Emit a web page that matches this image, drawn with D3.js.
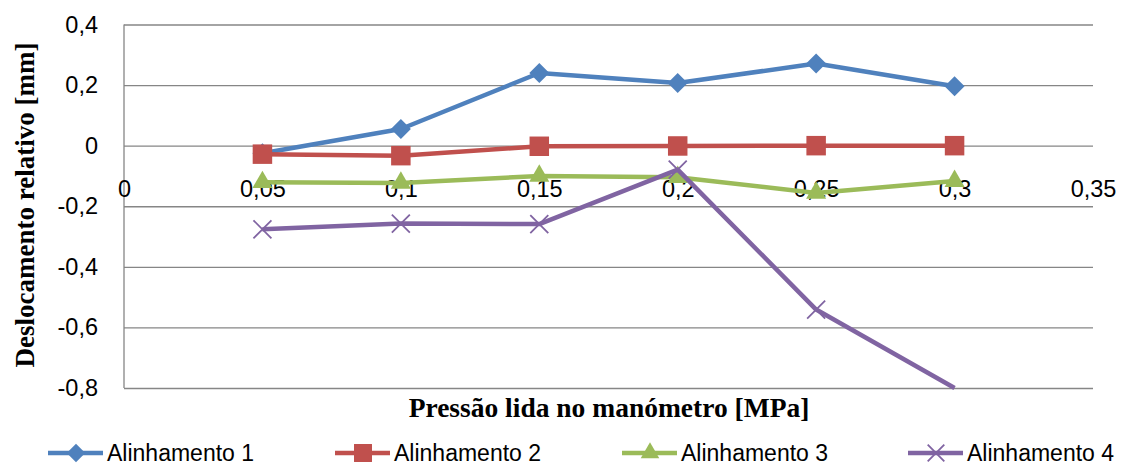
<!DOCTYPE html>
<html>
<head>
<meta charset="utf-8">
<script src="https://cdn.jsdelivr.net/npm/d3@7"></script>
<style>
  body { margin: 0; background: #fff; }
  svg { display: block; }
</style>
</head>
<body>
<svg id="chart" width="1127" height="466"></svg>
<script>
// ========== Data ==========

const pressures = [0.05, 0.1, 0.15, 0.2, 0.25, 0.3];
const alinhamento1 = [-0.025, 0.055, 0.24, 0.207, 0.271, 0.196];
const alinhamento2 = [-0.028, -0.033, -0.002, -0.001, 0, 0];
const alinhamento3 = [-0.121, -0.123, -0.1, -0.104, -0.156, -0.117];
const alinhamento4 = [-0.276, -0.257, -0.259, -0.079, -0.541, -0.8];
const seriesNames = ["Alinhamento 1", "Alinhamento 2", "Alinhamento 3", "Alinhamento 4"];
const xTicks = [0, 0.05, 0.1, 0.15, 0.2, 0.25, 0.3, 0.35];
const yTicks = [0.4, 0.2, 0, -0.2, -0.4, -0.6, -0.8];

const seriesValues = [alinhamento1, alinhamento2, alinhamento3, alinhamento4];
const colors = ["#4F81BD", "#C0504D", "#9BBB59", "#8064A2"];

// ========== Helpers ==========

const ptLocale = d3.formatLocale({ decimal: ",", thousands: ".", grouping: [3], currency: ["", ""], minus: "-" });
const fmt = v => ptLocale.format("~g")(+v.toFixed(2));

const symbolCross = {
    draw(ctx, size) {
        const r = Math.sqrt(size) / 2;
        ctx.moveTo(-r, -r); ctx.lineTo(r, r);
        ctx.moveTo(-r, r); ctx.lineTo(r, -r);
    }
};

function markerPath(i, scale) {
    if (i === 0) return d3.symbol().type(d3.symbolSquare).size(200 * scale)();
    if (i === 1) return d3.symbol().type(d3.symbolSquare).size(380 * scale)();
    if (i === 2) return d3.symbol().type(d3.symbolTriangle).size(175 * scale)();
    return d3.symbol().type(symbolCross).size(324 * scale)();
}

const sans = "Liberation Sans, Arial, sans-serif";
const serif = "Liberation Serif, Times New Roman, serif";

// ========== Chart ==========

const svg = d3.select("#chart");
const x = d3.scaleLinear().domain([0, 0.35]).range([124, 1093]);
const y = d3.scaleLinear().domain([-0.8, 0.4]).range([388, 24.5]);

// gridlines + y axis
const yAxis = svg.append("g")
    .attr("transform", `translate(${x(0)},0)`)
    .call(d3.axisLeft(y).tickValues(yTicks).tickFormat(fmt)
        .tickSize(-(x(0.35) - x(0))).tickPadding(26));
yAxis.select(".domain").remove();
yAxis.selectAll(".tick line").attr("stroke", "#868686").attr("stroke-width", 1.3);
yAxis.selectAll("text")
    .attr("font-family", sans)
    .attr("font-size", 23.5).attr("fill", "#000");

svg.append("line")
    .attr("x1", x(0)).attr("x2", x(0))
    .attr("y1", y(0.4)).attr("y2", y(-0.8))
    .attr("stroke", "#868686").attr("stroke-width", 1.3);

// x axis labels (below the zero line)
const xAxis = svg.append("g")
    .attr("transform", `translate(0,${y(0)})`)
    .call(d3.axisBottom(x).tickValues(xTicks).tickFormat(fmt).tickSize(0));
xAxis.select(".domain").remove();
xAxis.selectAll("text")
    .attr("y", 51).attr("dy", null)
    .attr("font-family", sans)
    .attr("font-size", 23.5).attr("fill", "#000");

// series
const line = d3.line().x((d, i) => x(pressures[i])).y(d => y(d));

seriesValues.forEach((vals, i) => {
    const g = svg.append("g");
    g.append("path")
        .datum(vals)
        .attr("fill", "none")
        .attr("stroke", colors[i])
        .attr("stroke-width", 4.5)
        .attr("stroke-linejoin", "round")
        .attr("d", line);

    g.selectAll(".m")
        .data(vals.map((v, k) => ({ p: pressures[k], v })).filter(d => d.v > -0.8))
        .join("path")
        .attr("transform", d => `translate(${x(d.p)},${y(d.v)})${i === 0 ? " rotate(45)" : ""}`)
        .attr("d", markerPath(i, 1))
        .attr("fill", i === 3 ? "none" : colors[i])
        .attr("stroke", colors[i])
        .attr("stroke-width", i === 3 ? 1.8 : 0);
});

// axis titles
svg.append("text")
    .attr("x", 609).attr("y", 417)
    .attr("text-anchor", "middle")
    .attr("font-family", serif)
    .attr("font-weight", "bold").attr("font-size", 27.5)
    .text("Pressão lida no manómetro [MPa]");

svg.append("text")
    .attr("transform", "translate(34,205) rotate(-90)")
    .attr("text-anchor", "middle")
    .attr("font-family", serif)
    .attr("font-weight", "bold").attr("font-size", 27)
    .text("Deslocamento relativo [mm]");

// legend
const legendX = [48, 335, 622, 908];
const legend = svg.append("g");
seriesNames.forEach((name, i) => {
    const g = legend.append("g").attr("transform", `translate(${legendX[i]},453)`);
    g.append("line")
        .attr("x1", 0).attr("x2", 55)
        .attr("stroke", colors[i]).attr("stroke-width", 4.5);
    g.append("path")
        .attr("transform", `translate(28,0)${i === 0 ? " rotate(45)" : ""}`)
        .attr("d", markerPath(i, 0.85))
        .attr("fill", i === 3 ? "none" : colors[i])
        .attr("stroke", colors[i])
        .attr("stroke-width", i === 3 ? 1.8 : 0);
    g.append("text")
        .attr("x", 59).attr("y", 8)
        .attr("font-family", sans)
        .attr("font-size", 23).attr("fill", "#000")
        .text(name);
});
</script>
</body>
</html>
